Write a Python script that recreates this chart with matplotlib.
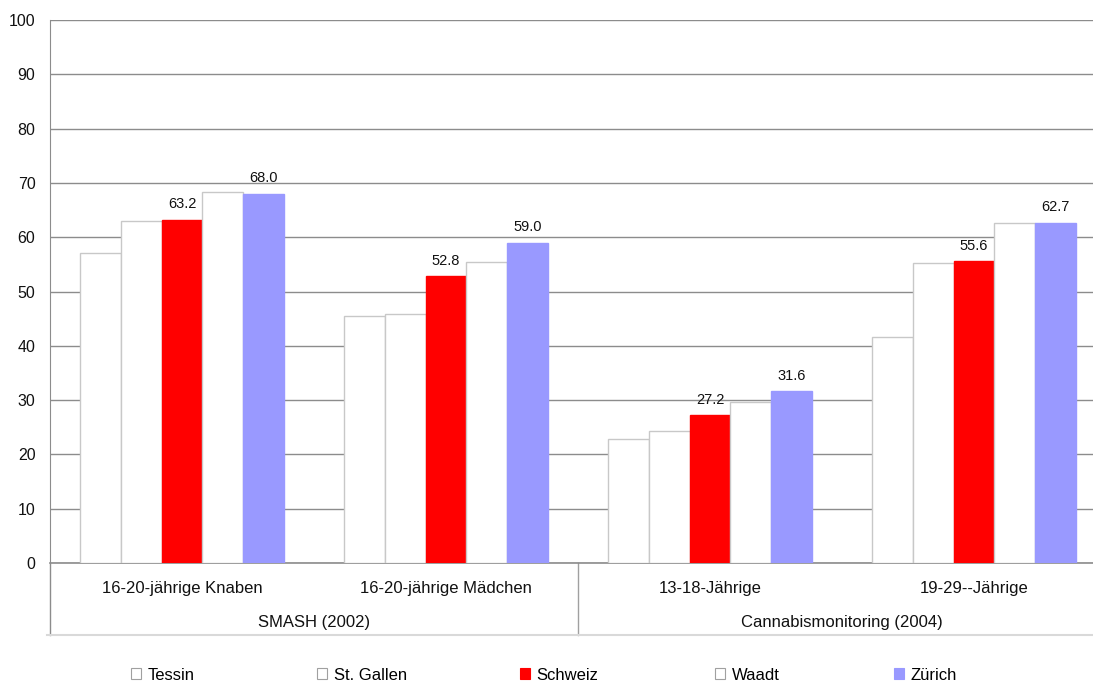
import numpy as np
import matplotlib
matplotlib.use("Agg")
import matplotlib.pyplot as plt
from matplotlib.patches import Patch

plt.rcParams['font.family'] = ['Liberation Sans', 'DejaVu Sans']

# Daten
categories = ["16-20-jährige Knaben", "16-20-jährige Mädchen", "13-18-Jährige", "19-29--Jährige"]
groups = ["SMASH (2002)", "Cannabismonitoring (2004)"]
series = ["Tessin", "St. Gallen", "Schweiz", "Waadt", "Zürich"]
tessin = [57.0, 45.4, 22.8, 41.7]
st_gallen = [62.9, 45.9, 24.3, 55.2]
schweiz = [63.2, 52.8, 27.2, 55.6]
waadt = [68.4, 55.5, 29.6, 62.6]
zuerich = [68.0, 59.0, 31.6, 62.7]
labelled = ["Schweiz", "Zürich"]

values = [tessin, st_gallen, schweiz, waadt, zuerich]
faces = ["white", "white", "#ff0000", "white", "#9999ff"]
edges = ["#c8c8c8", "#c8c8c8", "#ff0000", "#c8c8c8", "#9999ff"]

W, H = 1093, 684
fig = plt.figure(figsize=(W / 100, H / 100), dpi=100)
ax = fig.add_axes([50 / W, (H - 563) / H, 1056 / W, 543 / H])

x = np.arange(len(categories))
bw = 0.1545
bars = []
for j, (name, vals) in enumerate(zip(series, values)):
    b = ax.bar(x + (j - 2) * bw, vals, bw, color=faces[j], edgecolor=edges[j],
               linewidth=1.0, zorder=3, label=name)
    bars.append(b)
    if name in labelled:
        for xi, v in zip(x + (j - 2) * bw, vals):
            ax.annotate(f"{v:.1f}", (xi, v), xytext=(0, 6), textcoords="offset points",
                        ha="center", va="bottom", fontsize=10.5, color="#111111", zorder=4)

ax.set_xlim(-0.5, 3.5)
ax.set_ylim(0, 100)
ax.set_yticks(np.arange(0, 101, 10))
ax.tick_params(axis="y", length=0, pad=10.5, labelsize=11.5, labelcolor="#111111")
ax.set_xticks([])
ax.yaxis.grid(True, color="#8c8c8c", linewidth=1.0, zorder=0)
ax.set_axisbelow(True)
for s in ["top", "right"]:
    ax.spines[s].set_visible(False)
ax.spines["left"].set_color("#8c8c8c")
ax.spines["bottom"].set_color("#8c8c8c")
ax.spines["bottom"].set_linewidth(1.2)

# Kategorienbeschriftung unter der Achse
tr = ax.get_xaxis_transform()
y_cat = -25 / 543
y_grp = -59 / 543
y_bot = -72 / 543
for xi, c in zip(x, categories):
    ax.text(xi, y_cat, c, transform=tr, ha="center", va="center", fontsize=12, color="#111111")
for k, g in enumerate(groups):
    ax.text(0.5 + 2 * k, y_grp, g, transform=tr, ha="center", va="center", fontsize=12,
            color="#111111")
ax.plot([-0.5, -0.5], [0, y_bot], transform=tr, color="#8c8c8c", lw=1.0, clip_on=False)
ax.plot([1.5, 1.5], [0, y_bot], transform=tr, color="#a0a0a0", lw=1.0, clip_on=False)
ax.plot([-0.51, 3.5], [y_bot, y_bot], transform=tr, color="#d9d9d9", lw=1.5, clip_on=False)

# Legende
leg_x = [131, 317, 520, 715, 894]
for j, name in enumerate(series):
    h = Patch(facecolor=faces[j], edgecolor=edges[j] if faces[j] != "white" else "#a0a0a0",
              linewidth=0.8)
    fig.legend(handles=[h], labels=[name], loc="center left",
               bbox_to_anchor=(leg_x[j] / W, (H - 675) / H), frameon=False, fontsize=12,
               handlelength=0.6, handleheight=0.6, handletextpad=0.4, borderpad=0,
               borderaxespad=0)

fig.savefig("out.png", dpi=100, facecolor="white")
